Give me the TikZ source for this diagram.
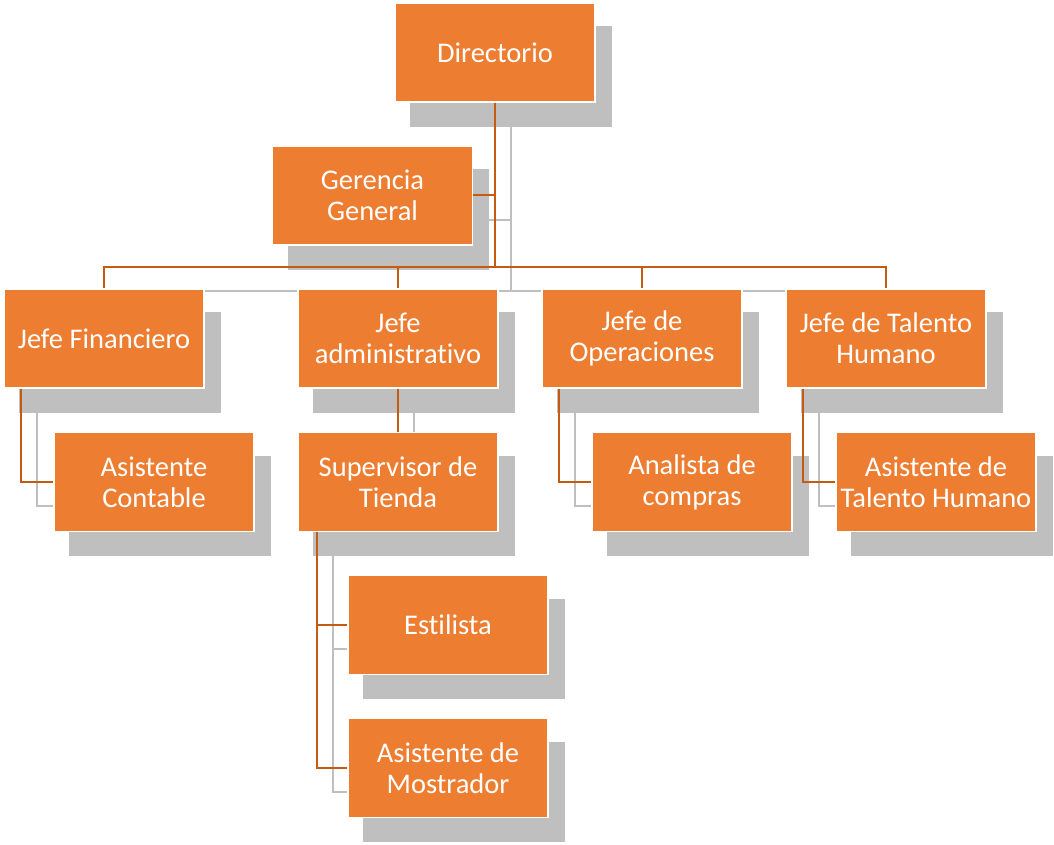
\documentclass[tikz,border=0pt]{standalone}
\usepackage{fontspec}
\setmainfont{Carlito}[Ligatures={NoCommon}]
\definecolor{boxor}{HTML}{ED7D31}
\definecolor{lineor}{HTML}{C55A11}
\definecolor{shad}{HTML}{BFBFBF}
\pgfdeclarelayer{shadowlayer}
\pgfdeclarelayer{linelayer}
\pgfsetlayers{shadowlayer,linelayer,main}
\begin{document}
\begin{tikzpicture}[x=1pt,y=-1pt,
 box/.style={rectangle, fill=boxor, draw=white, line width=1.5pt, minimum width=200pt, minimum height=99pt, inner sep=2pt, text=white, align=center, font=\fontsize{28.5}{31}\selectfont},
 oline/.style={draw=lineor, line width=2pt},
 gline/.style={draw=shad, line width=2pt},
 sh/.style={shift={(16,24)}}]
\useasboundingbox (0,0) rectangle (1054,845);
\node[box] (dir) at (495,52.5) {Directorio};
\node[box] (ger) at (372.5,195.5) {Gerencia\\General};
\node[box] (jf) at (104,338.5) {Jefe Financiero};
\node[box] (ja) at (398,338.5) {Jefe\\administrativo};
\node[box] (jo) at (642,338.5) {Jefe de\\Operaciones};
\node[box] (jt) at (886,338.5) {Jefe de Talento\\Humano};
\node[box] (ac) at (154,482) {Asistente\\Contable};
\node[box] (st) at (398,482) {Supervisor de\\Tienda};
\node[box] (es) at (448,625) {Estilista};
\node[box] (am) at (448,768) {Asistente de\\Mostrador};
\node[box] (an) at (692,482) {Analista de\\compras};
\node[box] (ath) at (936,482) {Asistente de\\Talento Humano};
\coordinate (bus) at (495,267);
\coordinate (gbus) at (511,291);
\begin{pgfonlayer}{shadowlayer}
\fill[white] (0,0) rectangle (1054,845);
\foreach \n in {dir,ger,jf,ja,jo,jt,ac,st,es,am,an,ath}
  \fill[shad] ([sh]\n.south west) rectangle ([sh]\n.north east);
\end{pgfonlayer}
\begin{pgfonlayer}{linelayer}
% gray shadow connectors
\coordinate (gge) at ([sh]ger.east);
\coordinate (g1) at ([sh]jf.north);
\coordinate (g2) at ([sh]ja.north);
\coordinate (g3) at ([sh]jo.north);
\coordinate (g4) at ([sh]jt.north);
\draw[gline] ([sh]dir.south) -- (gbus);
\draw[gline] (gge) -- (gge -| gbus);
\draw[gline] (g1) |- (gbus) -| (g4);
\draw[gline] (g2) -- (g2 |- gbus);
\draw[gline] (g3) -- (g3 |- gbus);
\draw[gline] ([shift={(34,24)}]jf.south west) |- ([sh]ac.west);
\draw[gline] ([shift={(34,24)}]jo.south west) |- ([sh]an.west);
\draw[gline] ([shift={(34,24)}]jt.south west) |- ([sh]ath.west);
\draw[gline] ([sh]ja.south) -- ([sh]st.north);
\draw[gline] ([shift={(36,24)}]st.south west) |- ([sh]es.west);
\draw[gline] ([shift={(36,24)}]st.south west) |- ([sh]am.west);
% orange connectors
\draw[oline] (dir.south) -- (bus);
\draw[oline] (ger.east) -- (ger.east -| dir.south);
\draw[oline] (jf.north) |- (bus) -| (jt.north);
\draw[oline] (ja.north) -- (ja.north |- bus);
\draw[oline] (jo.north) -- (jo.north |- bus);
\draw[oline] ([xshift=18pt]jf.south west) |- (ac.west);
\draw[oline] ([xshift=18pt]jo.south west) |- (an.west);
\draw[oline] ([xshift=18pt]jt.south west) |- (ath.west);
\draw[oline] (ja.south) -- (st.north);
\draw[oline] ([xshift=20pt]st.south west) |- (es.west);
\draw[oline] ([xshift=20pt]st.south west) |- (am.west);
\end{pgfonlayer}
\end{tikzpicture}
\end{document}
